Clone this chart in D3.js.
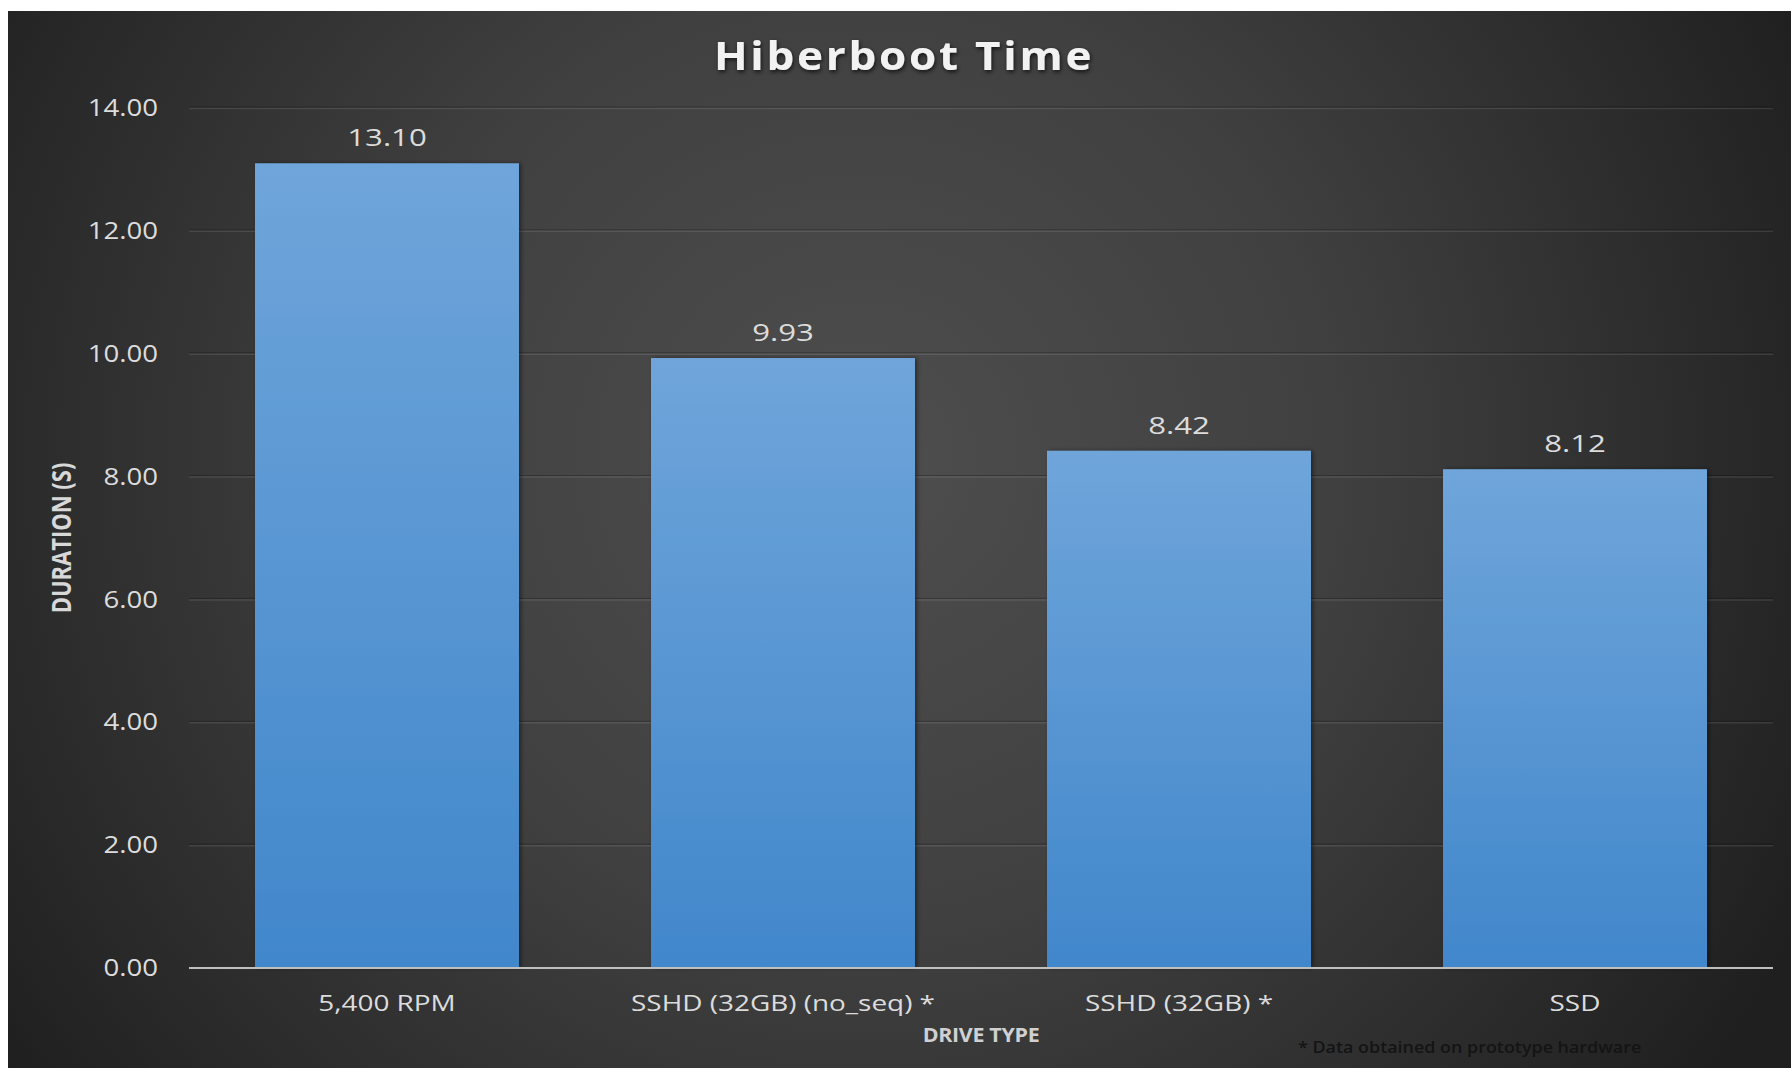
<!DOCTYPE html>
<html>
<head>
<meta charset="utf-8">
<script src="https://cdn.jsdelivr.net/npm/d3@7"></script>
<style>
  html, body { margin: 0; padding: 0; background: #ffffff; }
  svg { display: block; }
</style>
</head>
<body>
<svg id="chart" width="1791" height="1068"></svg>
<script>
// Hiberboot duration per drive type
const categories = ["5,400 RPM", "SSHD (32GB) (no_seq) *", "SSHD (32GB) *", "SSD"];
const durations = [13.10, 9.93, 8.42, 8.12];
const yTicks = [0, 2, 4, 6, 8, 10, 12, 14];
const titleText = "Hiberboot Time";
const xAxisTitle = "DRIVE TYPE";
const yAxisTitle = "DURATION (S)";
const footnote = "* Data obtained on prototype hardware";

const W = 1791, H = 1068;
const panel = { x: 8, y: 11 };
const plot = { left: 189, right: 1773, top: 108, bottom: 968 };
const font = "'Open Sans', 'Noto Sans', sans-serif";
// the slide's lettering is set wide; stretch glyphs horizontally
const stretch = { value: 1.3, yTick: 1.15, xTick: 1.27, title: 1.1, axisTitle: 1.13, yTitle: 1.25, note: 1.12 };

const svg = d3.select("#chart");
const defs = svg.append("defs");

// dark radial backdrop
const bg = defs.append("radialGradient").attr("id", "bgGrad")
  .attr("gradientUnits", "userSpaceOnUse")
  .attr("cx", 860).attr("cy", 460).attr("r", 1050);
bg.append("stop").attr("offset", "0%").attr("stop-color", "#4e4e4e");
bg.append("stop").attr("offset", "45%").attr("stop-color", "#404040");
bg.append("stop").attr("offset", "100%").attr("stop-color", "#1f1f1f");

// bar fill: lighter at the top
const barGrad = defs.append("linearGradient").attr("id", "barGrad")
  .attr("x1", 0).attr("y1", 0).attr("x2", 0).attr("y2", 1);
barGrad.append("stop").attr("offset", "0%").attr("stop-color", "#6fa5da");
barGrad.append("stop").attr("offset", "100%").attr("stop-color", "#4187cb");

const shadow = defs.append("filter").attr("id", "barShadow")
  .attr("x", "-5%").attr("y", "-5%").attr("width", "115%").attr("height", "115%");
shadow.append("feDropShadow").attr("dx", 2).attr("dy", 0).attr("stdDeviation", 2)
  .attr("flood-color", "#000").attr("flood-opacity", 0.45);

const titleShadow = defs.append("filter").attr("id", "titleShadow")
  .attr("x", "-10%").attr("y", "-30%").attr("width", "120%").attr("height", "160%");
titleShadow.append("feDropShadow").attr("dx", 1).attr("dy", 2).attr("stdDeviation", 2)
  .attr("flood-color", "#000").attr("flood-opacity", 0.7);

svg.append("rect")
  .attr("x", panel.x).attr("y", panel.y)
  .attr("width", W - panel.x).attr("height", H - panel.y)
  .attr("fill", "url(#bgGrad)");

const x = d3.scaleBand()
  .domain(categories)
  .range([plot.left, plot.right])
  .paddingInner(1 / 3)
  .paddingOuter(1 / 6);

const y = d3.scaleLinear()
  .domain([0, 14])
  .range([plot.bottom, plot.top]);

// horizontal gridlines
const grid = svg.append("g");
const gridTicks = yTicks.filter(t => t > 0);
grid.selectAll("line.g-dark")
  .data(gridTicks)
  .join("line")
  .attr("class", "g-dark")
  .attr("x1", plot.left).attr("x2", plot.right)
  .attr("y1", d => y(d) - 1).attr("y2", d => y(d) - 1)
  .attr("stroke", "rgba(0,0,0,0.25)").attr("stroke-width", 1);
grid.selectAll("line.g-light")
  .data(gridTicks)
  .join("line")
  .attr("class", "g-light")
  .attr("x1", plot.left).attr("x2", plot.right)
  .attr("y1", d => y(d) + 0.5).attr("y2", d => y(d) + 0.5)
  .attr("stroke", "rgba(255,255,255,0.10)").attr("stroke-width", 1.5);

// y axis tick labels
const yPad = 31;
const yAxis = d3.axisLeft(y)
  .tickValues(yTicks)
  .tickFormat(d3.format(".2f"))
  .tickSize(0)
  .tickPadding(yPad);
const yG = svg.append("g")
  .attr("transform", `translate(${plot.left},0)`)
  .call(yAxis);
yG.select(".domain").remove();
yG.selectAll("text")
  .attr("x", 0)
  .attr("transform", `translate(${-yPad},0) scale(${stretch.yTick},1)`)
  .attr("fill", "#dcdcdc")
  .style("font-family", font)
  .style("font-size", "24px");

// bars
svg.append("g").selectAll("rect")
  .data(durations)
  .join("rect")
  .attr("x", (d, i) => x(categories[i]))
  .attr("y", d => y(d))
  .attr("width", x.bandwidth())
  .attr("height", d => y(0) - y(d))
  .attr("fill", "url(#barGrad)")
  .attr("filter", "url(#barShadow)");

// value labels
svg.append("g").selectAll("text")
  .data(durations)
  .join("text")
  .attr("transform", (d, i) =>
    `translate(${x(categories[i]) + x.bandwidth() / 2},${y(d) - 17}) scale(${stretch.value},1)`)
  .attr("text-anchor", "middle")
  .attr("fill", "#dcdcdc")
  .style("font-family", font)
  .style("font-size", "24px")
  .text(d => d3.format(".2f")(d));

// baseline
svg.append("line")
  .attr("x1", plot.left).attr("x2", plot.right)
  .attr("y1", y(0)).attr("y2", y(0))
  .attr("stroke", "#bfbfbf").attr("stroke-width", 2);

// category axis
const xAxis = d3.axisBottom(x).tickSize(0).tickPadding(27);
const xG = svg.append("g")
  .attr("transform", `translate(0,${y(0)})`)
  .call(xAxis);
xG.select(".domain").remove();
xG.selectAll("text")
  .attr("transform", `scale(${stretch.xTick},1)`)
  .attr("fill", "#dcdcdc")
  .style("font-family", font)
  .style("font-size", "22px");

// title
svg.append("text")
  .attr("transform", `translate(904,70) scale(${stretch.title},1)`)
  .attr("text-anchor", "middle")
  .attr("fill", "#f2f2f2")
  .attr("filter", "url(#titleShadow)")
  .style("font-family", font)
  .style("font-weight", "700")
  .style("font-size", "40px")
  .style("letter-spacing", "2.5px")
  .text(titleText);

// axis titles
svg.append("text")
  .attr("transform", `translate(${(plot.left + plot.right) / 2},1042) scale(${stretch.axisTitle},1)`)
  .attr("text-anchor", "middle")
  .attr("fill", "#d0d0d0")
  .style("font-family", font)
  .style("font-weight", "700")
  .style("font-size", "19px")
  .style("letter-spacing", "-0.3px")
  .text(xAxisTitle);

svg.append("text")
  .attr("transform", `translate(71,${(plot.top + plot.bottom) / 2}) scale(${stretch.yTitle},1) rotate(-90)`)
  .attr("text-anchor", "middle")
  .attr("fill", "#d8d8d8")
  .style("font-family", font)
  .style("font-weight", "700")
  .style("font-size", "22px")
  .text(yAxisTitle);

// footnote
svg.append("text")
  .attr("transform", `translate(1298,1053) scale(${stretch.note},1)`)
  .attr("fill", "#141414")
  .style("font-family", font)
  .style("font-weight", "600")
  .style("font-size", "16px")
  .text(footnote);
</script>
</body>
</html>
